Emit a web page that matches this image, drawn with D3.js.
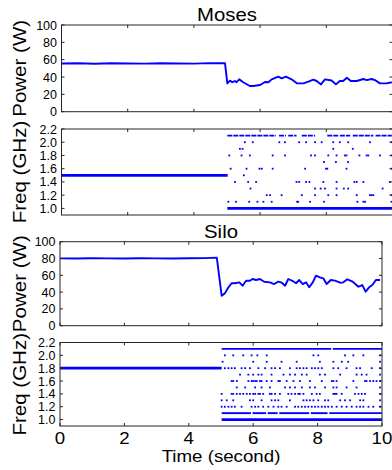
<!DOCTYPE html>
<html><head><meta charset="utf-8">
<script src="https://cdn.jsdelivr.net/npm/d3@7"></script>
<style>body{margin:0;background:#fff}svg{display:block}text{font-family:"Liberation Sans",Arial,sans-serif;fill:#000}</style>
</head><body><svg id="c" width="392" height="470"></svg>
<script>
// ---------- DATA ----------
const timeTicks = [0, 2, 4, 6, 8, 10];
const powerTicks = [0, 20, 40, 60, 80, 100];
const freqTicks = [1.0, 1.2, 1.4, 1.6, 1.8, 2.0, 2.2];

const mosesPowerT = [0,0.5,1,1.5,2,2.5,3,3.5,4,4.5,4.94,5.01,5.09,5.16,5.24,5.29,5.37,5.49,5.69,5.79,6.0,6.15,6.25,6.35,6.55,6.65,6.78,6.95,7.11,7.31,7.46,7.61,7.71,7.84,7.96,8.16,8.29,8.41,8.51,8.62,8.74,8.92,9.12,9.22,9.37,9.47,9.62,9.82,9.98];
const mosesPowerW = [55.6,55.9,55.3,55.9,55.6,55.4,55.9,55.6,55.5,56.0,55.8,32.7,35.8,34.0,35.4,34.0,37.3,34.0,29.6,29.6,30.8,34.2,34.0,37.3,40.4,38.4,40.4,37.3,32.7,32.7,34.6,36.9,35.4,31.5,37.3,36.0,31.5,35.4,35.4,39.2,35.4,35.4,37.7,36.5,37.7,36.5,32.7,32.7,34.0];

const siloPowerT = [0,0.5,1,1.5,2,2.5,3,3.5,4,4.5,4.87,5.02,5.12,5.23,5.33,5.43,5.57,5.67,5.78,5.9,5.98,6.09,6.21,6.34,6.52,6.65,6.78,6.89,6.99,7.09,7.23,7.33,7.43,7.54,7.64,7.74,7.85,7.95,8.07,8.18,8.28,8.41,8.54,8.7,8.8,8.92,9.09,9.27,9.39,9.49,9.6,9.7,9.81,9.94];
const siloPowerW = [80.2,80.0,80.3,80.1,80.0,80.3,80.2,80.0,80.3,80.4,81.0,35.7,38.5,45.7,50.5,50.5,51.6,47.6,53.6,53.6,55.6,54.4,55.6,52.4,51.6,49.6,52.4,51.2,47.6,55.6,53.2,50.5,54.4,49.6,51.6,45.7,51.6,59.5,57.5,56.3,49.6,54.4,53.6,51.2,51.6,55.2,52.4,46.4,48.4,40.5,45.7,48.4,54.4,54.4];

// constant frequency before the switch: [start, end, GHz]
const mosesFreqConst = [0, 5.02, 1.5];
const siloFreqConst = [0, 5.02, 1.8];

// dense rows drawn as runs: level, [start,end] list
const mosesRunLevels = [2.1, 1.0];
const mosesRuns = [
  [[5.01,6.48],[6.57,6.78],[6.85,7.10],[7.26,7.66],[8.03,8.36],[8.41,8.72],[8.80,9.42],[9.49,9.98]],
  [[5.01,10]]
];
const siloRunLevels = [2.1, 1.1, 1.0];
const siloRuns = [
  [[5.02,8.42],[8.47,10]],
  [[5.02,5.93],[5.98,6.40],[6.45,6.76],[6.81,7.74],[7.79,8.31],[8.36,10]],
  [[5.02,10]]
];

// scattered samples per frequency level
const mosesDotLevels = [2.0,1.9,1.8,1.7,1.6,1.5,1.4,1.3,1.2,1.1];
const mosesDotTimes = [
  [5.54,5.78,6.58,6.75,7.18,7.39,7.66,7.86,8.21,8.41,8.66,9.32,9.97],
  [5.39,5.47,8.21,8.80],
  [5.07,5.44,5.69,6.38,6.75,7.54,7.66,8.06,8.31,8.56,8.61,9.00,9.22,9.27,9.62,9.97],
  [7.93,8.29,8.66],
  [5.11,5.59,5.98,6.05,6.38,7.36,7.99,8.03,8.61,9.97],
  [5.51],
  [5.24,5.64,5.88,7.10,7.18,7.39,7.49,7.91,8.31,8.85,8.92,9.12,9.92],
  [5.71,7.66,7.83,7.96,8.31,8.53,8.66,9.70],
  [6.20,6.30,6.65,7.26,7.66,8.06,8.31,8.92,9.32,9.37,9.42,9.97],
  [5.04,5.27,5.67,5.92,6.10,6.35,7.12,7.15,7.51,7.93,8.94,9.12,9.17,9.97]
];
const siloDotLevels = [2.0,1.9,1.8,1.7,1.6,1.5,1.4,1.3,1.2];
const siloDotTimes = [
  [5.12,5.38,5.69,5.95,6.13,6.42,7.87,8.02,8.85,9.11,9.42,9.94],
  [5.05,6.00,6.42,6.88,7.35,8.07,8.49,8.75,8.95,9.94],
  [5.12,5.23,5.33,5.43,5.64,5.75,5.90,6.16,6.37,6.57,6.68,6.83,7.14,7.35,7.45,7.56,7.66,7.82,7.92,8.02,8.13,8.49,8.64,8.90,9.21,9.32,9.68,9.94],
  [5.59,5.85,6.00,6.16,6.26,6.57,6.94,7.14,7.30,7.51,7.66,8.07,8.23,8.70,9.21,9.37,9.52,9.94],
  [5.33,5.38,5.49,5.85,5.95,6.00,6.06,6.11,6.21,6.26,6.42,6.57,6.78,6.83,7.04,7.25,7.45,7.76,8.13,8.44,8.49,8.59,9.11,9.47,9.52,9.63,9.73,9.83,9.94],
  [5.49,5.75,6.06,6.26,6.52,6.99,7.14,7.30,7.51,7.76,7.92,8.23,8.49,8.59,8.90,9.21,9.94],
  [5.02,5.33,5.38,5.49,5.59,5.69,5.80,5.90,6.00,6.06,6.16,6.21,6.31,6.52,6.57,6.68,6.83,7.09,7.19,7.30,7.40,7.45,7.56,7.82,7.97,8.07,8.49,8.54,8.59,8.75,9.16,9.27,9.37,9.47,9.94],
  [5.02,5.18,5.38,5.90,6.00,6.26,6.57,6.68,6.78,7.14,7.56,7.66,7.76,7.87,8.02,8.23,8.33,8.70,8.85,9.01,9.32,9.42,9.94],
  [5.02,5.12,5.23,5.33,5.43,5.64,5.95,6.06,6.16,6.31,6.47,6.63,6.78,6.88,7.04,7.30,7.40,7.51,7.61,7.71,7.82,7.92,8.02,8.13,8.23,8.33,8.44,8.59,8.75,8.90,9.06,9.21,9.32,9.42,9.58,9.73,9.94]
];

// ---------- DRAW ----------
const svg = d3.select("#c");
const BLUE = "#0000ff", FRAME = "#262626";
const TL = 3; // tick length

function frame(g, x, y, yTicks, fmt, showXLabels) {
  const [x0, x1] = x.range(), [y0, y1] = y.range();
  g.append("rect").attr("x", x0).attr("y", y1).attr("width", x1 - x0).attr("height", y0 - y1)
    .attr("fill", "none").attr("stroke", FRAME).attr("stroke-width", 1);
  const tk = g.append("g").attr("stroke", FRAME).attr("stroke-width", 1);
  timeTicks.forEach(t => {
    tk.append("line").attr("x1", x(t)).attr("x2", x(t)).attr("y1", y0).attr("y2", y0 - TL);
    tk.append("line").attr("x1", x(t)).attr("x2", x(t)).attr("y1", y1).attr("y2", y1 + TL);
  });
  yTicks.forEach(v => {
    tk.append("line").attr("x1", x0).attr("x2", x0 + TL).attr("y1", y(v)).attr("y2", y(v));
    tk.append("line").attr("x1", x1).attr("x2", x1 - TL).attr("y1", y(v)).attr("y2", y(v));
  });
  yTicks.forEach(v => {
    g.append("text").attr("x", x0 - 4.5).attr("y", y(v)).attr("dy", "0.36em")
      .attr("text-anchor", "end").attr("font-size", 12.5).text(fmt(v));
  });
  if (showXLabels) {
    timeTicks.forEach(t => {
      g.append("text").attr("transform", `translate(${x(t)},${y0 + 17.5}) scale(1.1,1)`)
        .attr("text-anchor", "middle").attr("font-size", 17).text(t);
    });
  }
}

function ylabel(g, txt, cx, y) {
  const [y0, y1] = y.range();
  g.append("text").attr("transform", `translate(${cx},${(y0 + y1) / 2}) rotate(-90) scale(1.08,1)`)
    .attr("text-anchor", "middle").attr("font-size", 19).text(txt);
}

function powerPanel(x, y, T, W, title, titleY) {
  const g = svg.append("g");
  const line = d3.line().x((d, i) => x(T[i])).y(d => y(d));
  g.append("path").datum(W).attr("d", line).attr("fill", "none")
    .attr("stroke", BLUE).attr("stroke-width", 1.9).attr("stroke-linejoin", "round");
  frame(g, x, y, powerTicks, d => d, false);
  ylabel(g, "Power (W)", 25.5, y);
  const [x0, x1] = x.range();
  g.append("text").attr("transform", `translate(${(x0 + x1) / 2},${titleY}) scale(1.1,1)`)
    .attr("text-anchor", "middle").attr("font-size", 18.5).text(title);
}

function freqPanel(x, y, cst, runLevels, runs, dotLevels, dotTimes, showX, dashTop) {
  const g = svg.append("g");
  g.append("line").attr("x1", x(cst[0])).attr("x2", x(cst[1])).attr("y1", y(cst[2])).attr("y2", y(cst[2]))
    .attr("stroke", BLUE).attr("stroke-width", 2.8);
  runLevels.forEach((lv, i) => {
    runs[i].forEach(r => {
      g.append("line").attr("x1", x(r[0])).attr("x2", x(r[1])).attr("y1", y(lv)).attr("y2", y(lv))
        .attr("stroke", BLUE).attr("stroke-width", lv === 1.0 ? 2.6 : 1.9)
        .attr("stroke-dasharray", (dashTop && lv !== 1.0) ? "5,1" : null);
    });
  });
  dotLevels.forEach((lv, i) => {
    g.selectAll(null).data(dotTimes[i]).enter().append("rect")
      .attr("x", d => x(d) - 0.9).attr("y", y(lv) - 0.9).attr("width", 1.8).attr("height", 1.8)
      .attr("fill", BLUE);
  });
  frame(g, x, y, freqTicks, d3.format(".1f"), showX);
  ylabel(g, "Freq (GHz)", 25.5, y);
}

// Moses
const xM = d3.scaleLinear().domain([0, 10]).range([61.5, 392.5]);
const yMP = d3.scaleLinear().domain([0, 100]).range([111.7, 25]);
const yMF = d3.scaleLinear().domain([0.9, 2.2]).range([215, 129]);
powerPanel(xM, yMP, mosesPowerT, mosesPowerW, "Moses", 20.7);
freqPanel(xM, yMF, mosesFreqConst, mosesRunLevels, mosesRuns, mosesDotLevels, mosesDotTimes, false, true);

// Silo
const xS = d3.scaleLinear().domain([0, 10]).range([60, 382]);
const ySP = d3.scaleLinear().domain([0, 100]).range([325.7, 241.7]);
const ySF = d3.scaleLinear().domain([0.9, 2.2]).range([426, 342.5]);
powerPanel(xS, ySP, siloPowerT, siloPowerW, "Silo", 238);
freqPanel(xS, ySF, siloFreqConst, siloRunLevels, siloRuns, siloDotLevels, siloDotTimes, true, false);

svg.append("text").attr("transform", `translate(221,461.5) scale(1.1,1)`)
  .attr("text-anchor", "middle").attr("font-size", 17).text("Time (second)");
</script></body></html>
